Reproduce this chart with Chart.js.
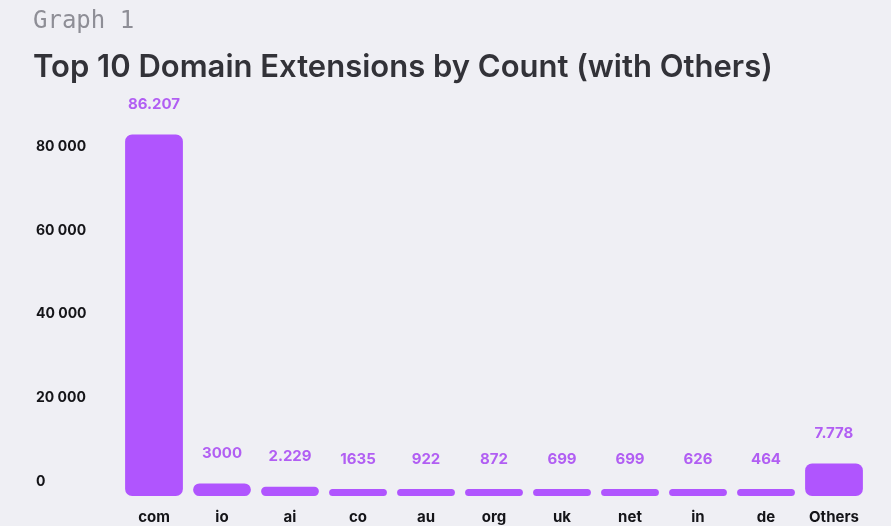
<!DOCTYPE html>
<html>
<head>
<meta charset="utf-8">
<script src="https://cdn.jsdelivr.net/npm/chart.js@4.4.1/dist/chart.umd.min.js"></script>
<style>
  html, body { margin: 0; padding: 0; background: #efeff4; }
  body { width: 891px; height: 526px; position: relative; overflow: hidden; }
  #kicker {
    position: absolute; left: 33px; top: 5px;
    font-family: "DejaVu Sans Mono", monospace; font-size: 24px;
    color: #8e8e96; line-height: 30px;
  }
  #title {
    position: absolute; left: 33px; top: 47px;
    font-family: Inter, sans-serif; font-weight: 600; font-size: 31px;
    color: #323238; line-height: 38px; letter-spacing: 0;
  }
  #wrap { position: absolute; left: 0; top: 0; width: 891px; height: 526px; }
</style>
</head>
<body>
<div id="wrap"><canvas id="domainChart" width="891" height="526"></canvas></div>
<div id="kicker">Graph 1</div>
<div id="title">Top 10 Domain Extensions by Count (with Others)</div>
<script>
// data
const categories = ['com', 'io', 'ai', 'co', 'au', 'org', 'uk', 'net', 'in', 'de', 'Others'];
const counts = [86207, 3000, 2229, 1635, 922, 872, 699, 699, 626, 464, 7778];
const countLabels = ['86.207', '3000', '2.229', '1635', '922', '872', '699', '699', '626', '464', '7.778'];
const yTicks = [0, 20000, 40000, 60000, 80000];

// value labels above each bar
const barValueLabels = {
  id: 'barValueLabels',
  afterDatasetsDraw(chart) {
    const ctx = chart.ctx;
    const meta = chart.getDatasetMeta(0);
    ctx.save();
    ctx.font = '700 15px Inter';
    ctx.fillStyle = '#b15ef3';
    ctx.textAlign = 'center';
    ctx.textBaseline = 'middle';
    meta.data.forEach((bar, i) => {
      ctx.fillText(countLabels[i], bar.x, bar.y - 30);
    });
    ctx.restore();
  }
};

const canvas = document.getElementById('domainChart');
new Chart(canvas, {
  type: 'bar',
  data: {
    labels: categories,
    datasets: [{
      data: counts,
      backgroundColor: '#b055fe',
      borderRadius: 7,
      borderSkipped: false,
      minBarLength: 7,
      barPercentage: 0.85,
      categoryPercentage: 1
    }]
  },
  options: {
    responsive: false,
    animation: false,
    devicePixelRatio: 1,
    layout: { padding: { top: 127, left: 36, right: 23, bottom: 0 } },
    plugins: { legend: { display: false }, tooltip: { enabled: false } },
    scales: {
      x: {
        grid: { display: false, drawTicks: false },
        border: { display: false },
        afterFit: s => { s.height = 30; },
        ticks: {
          padding: 12,
          color: '#141418',
          maxRotation: 0,
          autoSkip: false,
          font: { family: 'Inter', weight: 'bold', size: 15 }
        }
      },
      y: {
        min: 0,
        max: 88000,
        grid: { display: false, drawTicks: false },
        border: { display: false },
        afterBuildTicks: s => { s.ticks = yTicks.map(v => ({ value: v })); },
        afterFit: s => { s.width = 84; },
        ticks: {
          crossAlign: 'far',
          labelOffset: -14,
          padding: 0,
          color: '#141418',
          font: { family: 'Inter', weight: 'bold', size: 14 },
          callback: v => v.toLocaleString('en-US').replace(/,/g, ' ')
        }
      }
    }
  },
  plugins: [barValueLabels]
});
</script>
</body>
</html>
